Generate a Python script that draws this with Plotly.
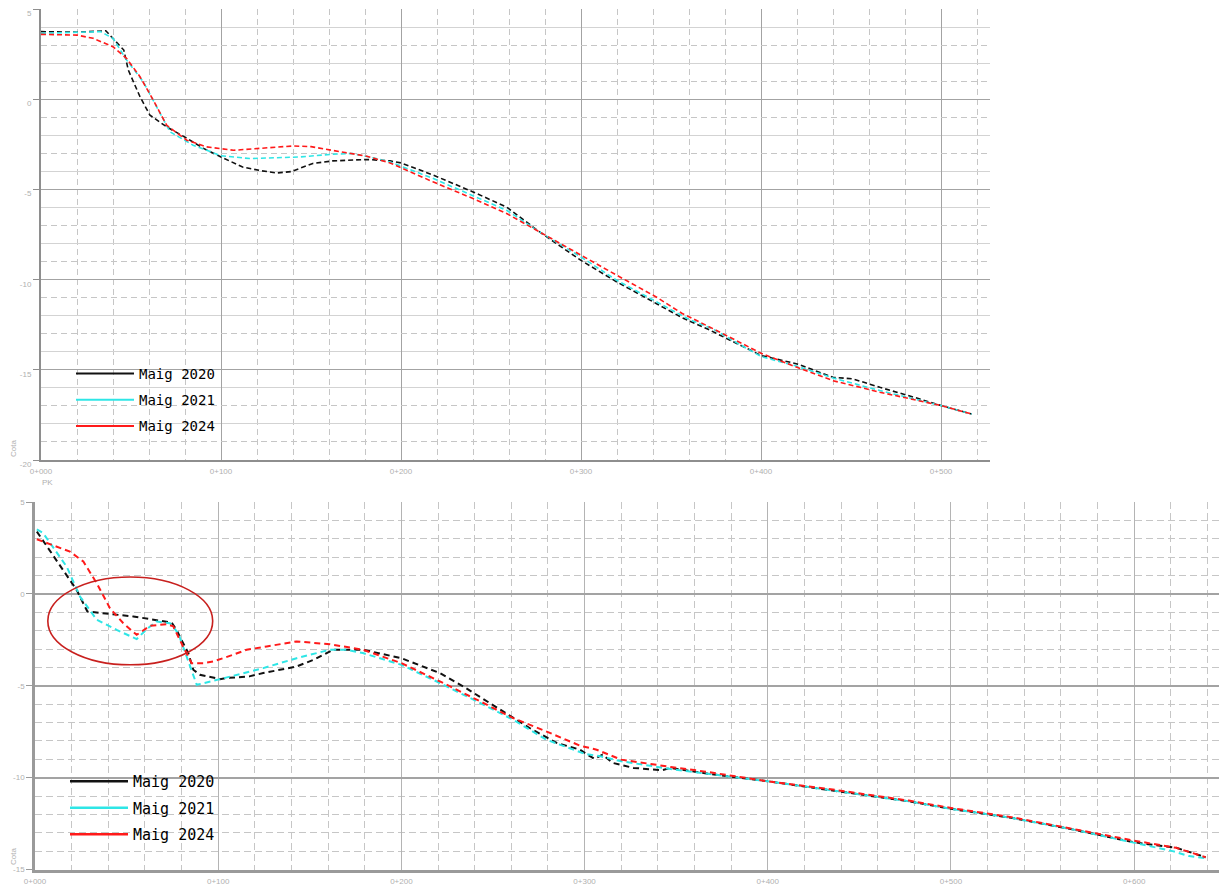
import plotly.graph_objects as go

# ---------------- Data: top profile ----------------
top_pk_2020 = [0, 20, 36, 46, 48.5, 55, 60.5, 69.8, 81, 90, 100, 112, 122, 131, 139, 151, 162, 181, 194, 200,
               218, 240, 258.7, 277, 300, 320, 342, 356, 370, 400, 420, 440, 451, 466, 485, 500, 517]
top_cota_2020 = [3.76, 3.73, 3.81, 2.74, 1.63, 0.15, -0.87, -1.52, -2.15, -2.7, -3.19, -3.75, -3.95, -4.08, -4.0,
                 -3.55, -3.41, -3.33, -3.41, -3.52, -4.2, -5.13, -5.97, -7.35, -8.93, -10.13, -11.33, -12.1, -12.72,
                 -14.2, -14.67, -15.41, -15.5, -15.97, -16.52, -16.98, -17.45]

top_pk_2021 = [0, 20, 33, 40, 47.6, 56.8, 64.3, 71.7, 84.5, 100, 116, 144, 162, 173, 185, 194,
               218, 240, 258.7, 277, 300, 320, 342, 360, 373, 400, 420, 440, 466, 500, 517]
top_cota_2021 = [3.67, 3.72, 3.76, 3.39, 2.18, 0.98, -0.41, -1.8, -2.54, -3.12, -3.28, -3.19, -3.04, -3.0, -3.25,
                 -3.47, -4.39, -5.32, -6.15, -7.35, -8.74, -10.04, -11.24, -12.2, -12.72, -14.26, -14.8, -15.45,
                 -16.15, -16.98, -17.45]

top_pk_2024 = [0, 20, 29, 40, 47.6, 55, 62.4, 69.8, 81, 92, 107, 125, 140, 150, 162, 181, 194,
               218, 240, 258.7, 277, 300, 320, 342, 356, 375, 400, 420, 440, 466, 500, 517]
top_cota_2024 = [3.61, 3.57, 3.39, 2.92, 2.27, 1.26, -0.04, -1.43, -2.26, -2.63, -2.82, -2.69, -2.58, -2.62,
                 -2.82, -3.15, -3.52, -4.58, -5.5, -6.33, -7.35, -8.65, -9.76, -10.97, -11.86, -12.8, -14.08,
                 -14.86, -15.6, -16.24, -16.98, -17.45]

# ---------------- Data: bottom profile ----------------
bot_pk_2020 = [1, 22.7, 28.6, 53.7, 74.6, 77.3, 79, 83.7, 86.4, 90, 101, 104.6, 117, 124.6, 142.8, 152, 162.8,
               179, 200, 221, 233.8, 253.8, 270, 284.8, 297.5, 300.8, 305.4, 309.8, 315.5, 326.7, 342.4, 346.9,
               364.9, 400, 432, 477, 500, 533, 567, 600, 623, 639]
bot_cota_2020 = [3.39, 0.22, -0.96, -1.23, -1.56, -1.96, -2.32, -3.22, -4.13, -4.4, -4.64, -4.58, -4.49, -4.31,
                 -3.95, -3.59, -3.04, -3.04, -3.5, -4.31, -5.04, -6.3, -7.3, -8.11, -8.48, -8.7, -8.98, -8.75,
                 -9.2, -9.47, -9.6, -9.47, -9.75, -10.2, -10.65, -11.29, -11.7, -12.19, -12.83, -13.52, -13.82,
                 -14.33]

bot_pk_2021 = [1, 4.5, 17.3, 24.6, 33.7, 44.6, 55.5, 61, 66.4, 73.7, 78.2, 82.8, 88.3, 101, 117, 124.6, 142.8,
               161, 170, 179, 200, 221, 243, 261, 279, 300, 308.7, 320, 347, 365, 400, 432, 477, 500, 533, 567,
               600, 621, 630, 639]
bot_cota_2021 = [3.51, 3.3, 1.48, -0.15, -1.41, -1.96, -2.46, -1.92, -1.5, -1.6, -2.14, -3.41, -4.95, -4.64,
                 -4.22, -4.04, -3.5, -3.04, -3.04, -3.22, -3.86, -4.85, -5.94, -6.85, -7.93, -8.7, -8.84, -9.11,
                 -9.53, -9.75, -10.2, -10.65, -11.29, -11.7, -12.19, -12.83, -13.52, -14.0, -14.27, -14.38]

bot_pk_2024 = [1, 19.1, 26.4, 33.7, 40.9, 48.2, 55.5, 62.8, 71.9, 75.5, 81, 85.5, 91.9, 97.3, 108, 115.5, 126.5,
               142.8, 161, 179, 200, 221, 243, 261, 279, 297.5, 306.6, 320, 347, 365, 400, 432, 477, 500, 533,
               567, 600, 623, 639]
bot_cota_2024 = [2.97, 2.3, 1.76, 0.58, -0.78, -1.6, -2.23, -1.74, -1.65, -1.77, -2.9, -3.77, -3.77, -3.68,
                 -3.32, -3.04, -2.86, -2.59, -2.74, -3.04, -3.77, -4.76, -5.85, -6.76, -7.48, -8.26, -8.48, -9.02,
                 -9.42, -9.66, -10.2, -10.6, -11.25, -11.65, -12.15, -12.8, -13.43, -13.82, -14.33]

series_names = ["Maig 2020", "Maig 2021", "Maig 2024"]
series_colors = ["#111111", "#2ee6e6", "#ff1a1a"]

# axis tick labels
top_pk_ticks = [0, 100, 200, 300, 400, 500]
bot_pk_ticks = [0, 100, 200, 300, 400, 500, 600]
top_cota_ticks = [-20, -15, -10, -5, 0, 5]
bot_cota_ticks = [-15, -10, -5, 0, 5]

# highlighted zone (ellipse) on the bottom profile
zone_pk = [7, 97]
zone_cota = [-3.86, 0.92]

# ---------------- Figure ----------------
OFF = 8                      # page body offset of the plot div
W, H = 1227 - OFF, 886 - OFF


def px(x):                   # screen x -> paper fraction
    return (x - OFF) / W


def py(y):                   # screen y -> paper fraction (from bottom)
    return 1 - (y - OFF) / H


fig = go.Figure()

top_sets = [(top_pk_2020, top_cota_2020), (top_pk_2021, top_cota_2021), (top_pk_2024, top_cota_2024)]
bot_sets = [(bot_pk_2020, bot_cota_2020), (bot_pk_2021, bot_cota_2021), (bot_pk_2024, bot_cota_2024)]

for (xs, ys), name, col in zip(top_sets, series_names, series_colors):
    fig.add_trace(go.Scatter(x=xs, y=ys, mode="lines", name=name, showlegend=False,
                             line=dict(color=col, width=1.6, dash="5px,3px"), xaxis="x", yaxis="y"))
for (xs, ys), name, col in zip(bot_sets, series_names, series_colors):
    fig.add_trace(go.Scatter(x=xs, y=ys, mode="lines", name=name, showlegend=False,
                             line=dict(color=col, width=2.0, dash="6px,4px"), xaxis="x2", yaxis="y2"))

# legend proxies (solid lines as in the original legends)
for i, (name, col) in enumerate(zip(series_names, series_colors)):
    fig.add_trace(go.Scatter(x=[None], y=[None], mode="lines", name=name, legend="legend",
                             legendgroup="t%d" % i, line=dict(color=col, width=2), xaxis="x", yaxis="y"))
    fig.add_trace(go.Scatter(x=[None], y=[None], mode="lines", name=name, legend="legend2",
                             legendgroup="b%d" % i, line=dict(color=col, width=2.5), xaxis="x2", yaxis="y2"))

# empty trace for overlay grid axis
fig.add_trace(go.Scatter(x=[], y=[], xaxis="x", yaxis="y3", showlegend=False, hoverinfo="skip"))

DARK = "#a3a3a3"
LIGHT = "#d3d3d3"
DASHC = "#c6c6c6"
AXC = "#8e8e8e"
TICKFONT = dict(family="Liberation Sans", size=8, color="#b0b0b0")
LABFONT = dict(family="Liberation Sans", size=8, color="#b0b0b0")


def fmt_pk(v):
    return "0+%03d" % v


odd_top = [v for v in range(-20, 6) if v % 2 != 0 and v % 5 != 0]
even_top = [v for v in range(-20, 6) if v % 2 == 0 and v % 5 != 0]

fig.update_layout(
    width=W, height=H,
    margin=dict(l=0, r=0, t=0, b=0, autoexpand=False),
    paper_bgcolor="white", plot_bgcolor="white",
    xaxis=dict(domain=[px(41), px(990)], anchor="y", range=[0, 527.2], automargin=False,
               tickmode="array", tickvals=top_pk_ticks, ticktext=[fmt_pk(v) for v in top_pk_ticks],
               showgrid=True, gridcolor=DARK, gridwidth=1.3,
               minor=dict(dtick=20, tick0=0, showgrid=True, gridcolor=DASHC, griddash="6px,4px", gridwidth=1),
               showline=True, linecolor=AXC, linewidth=2, ticks="", zeroline=False,
               tickfont=TICKFONT, ticklabelstandoff=2, ticklabeloverflow="allow"),
    yaxis=dict(domain=[py(460), py(9.3)], anchor="x", range=[-20, 5], automargin=False,
               tickmode="array", tickvals=top_cota_ticks, ticktext=[str(v) for v in top_cota_ticks],
               showgrid=True, gridcolor=DARK, gridwidth=1.3,
               minor=dict(tickmode="array", tickvals=even_top, showgrid=True, gridcolor=LIGHT, gridwidth=1),
               showline=True, linecolor=AXC, linewidth=2, ticks="outside", ticklen=6, tickcolor=AXC,
               zeroline=False, tickfont=TICKFONT, ticklabeloverflow="allow", ticklabelshift=4),
    yaxis3=dict(overlaying="y", anchor="x", range=[-20, 5], tickmode="array", tickvals=odd_top,
                automargin=False,
                showticklabels=False, showgrid=True, gridcolor=DASHC, griddash="6px,4px", gridwidth=1,
                showline=False, ticks="", zeroline=False),
    xaxis2=dict(domain=[px(35), 1.0], anchor="y2", range=[0, 649.6 * (1219 - 27) / (1225 - 35)],
                automargin=False,
                tickmode="array", tickvals=bot_pk_ticks, ticktext=[fmt_pk(v) for v in bot_pk_ticks],
                showgrid=True, gridcolor="#b4b4b4", gridwidth=1.3,
                minor=dict(dtick=20, tick0=0, showgrid=True, gridcolor=DASHC, griddash="7px,4px", gridwidth=1),
                showline=True, linecolor="#9a9a9a", linewidth=2.5, ticks="", zeroline=False,
                tickfont=TICKFONT, ticklabelstandoff=2, ticklabeloverflow="allow"),
    yaxis2=dict(domain=[py(869.5), py(502)], anchor="x2", range=[-15, 5], automargin=False,
                tickmode="array", tickvals=bot_cota_ticks, ticktext=[str(v) for v in bot_cota_ticks],
                showgrid=True, gridcolor=DARK, gridwidth=1.5,
                minor=dict(dtick=1, tick0=0, showgrid=True, gridcolor=DASHC, griddash="7px,4px", gridwidth=1),
                showline=True, linecolor="#9a9a9a", linewidth=2.5, ticks="outside", ticklen=6,
                tickcolor="#9a9a9a", zeroline=False, tickfont=TICKFONT, ticklabeloverflow="allow"),
    legend=dict(x=px(71), y=py(358), xanchor="left", yanchor="top", bgcolor="rgba(0,0,0,0)",
                font=dict(family="DejaVu Sans Mono", size=14, color="#000"), itemwidth=58,
                tracegroupgap=5),
    legend2=dict(x=px(65), y=py(765), xanchor="left", yanchor="top", bgcolor="rgba(0,0,0,0)",
                 font=dict(family="DejaVu Sans Mono", size=15, color="#000"), itemwidth=58,
                 tracegroupgap=4),
    shapes=[dict(type="circle", xref="x2", yref="y2", x0=zone_pk[0], x1=zone_pk[1],
                 y0=zone_cota[0], y1=zone_cota[1], line=dict(color="#c8201e", width=1.6))],
    annotations=[
        dict(text="Cota", xref="paper", yref="paper", x=px(13), y=py(449), showarrow=False,
             xanchor="center", yanchor="middle", textangle=-90, font=LABFONT),
        dict(text="PK", xref="paper", yref="paper", x=px(47), y=py(483), showarrow=False,
             xanchor="center", yanchor="middle", font=LABFONT),
        dict(text="Cota", xref="paper", yref="paper", x=px(13), y=py(857), showarrow=False,
             xanchor="center", yanchor="middle", textangle=-90, font=LABFONT),
    ],
)

fig.write_html("out.html")
